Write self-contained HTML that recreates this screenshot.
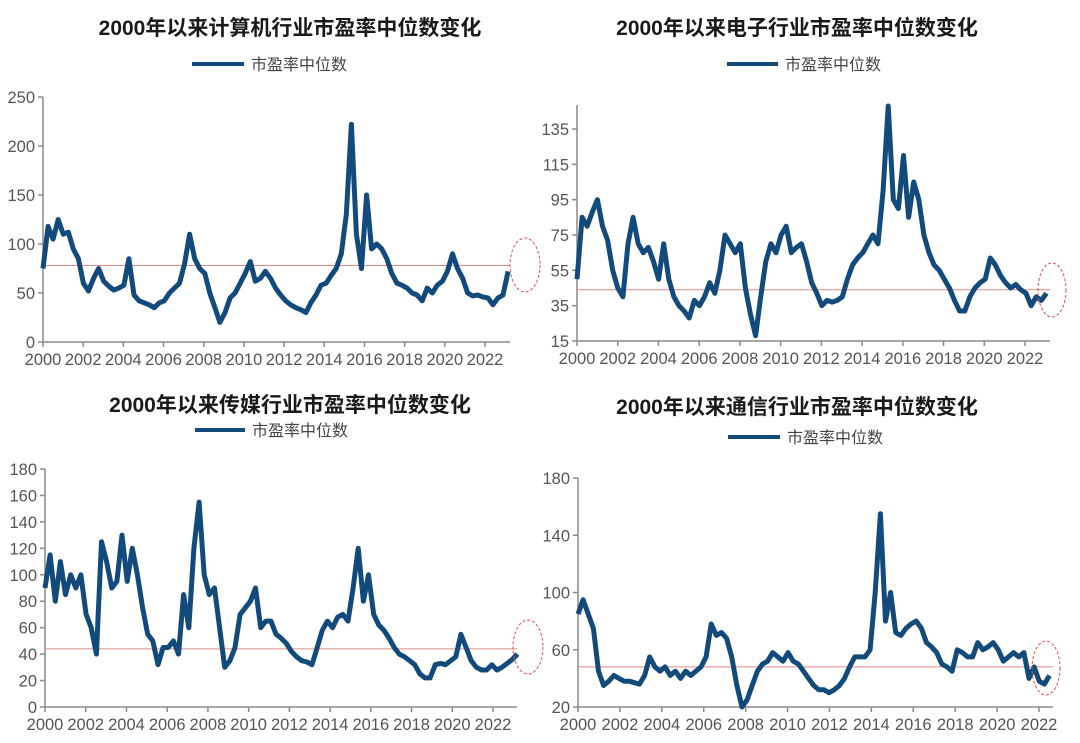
<!DOCTYPE html>
<html><head><meta charset="utf-8">
<style>
body{margin:0;background:#fff;}
svg{display:block;font-family:"Liberation Sans","Noto Sans CJK SC",sans-serif;}
</style></head>
<body>
<svg id="root" width="1080" height="743" viewBox="0 0 1080 743"></svg>
<script>
const years = [2000,2001,2002,2003,2004,2005,2006,2007,2008,2009,2010,2011,2012,2013,2014,2015,2016,2017,2018,2019,2020,2021,2022];
const xTickLabels = ["2000","2002","2004","2006","2008","2010","2012","2014","2016","2018","2020","2022"];
const computerPE = [75,118,105,125,110,112,95,85,60,52,65,75,62,57,53,55,58,85,48,42,40,38,35,40,42,50,55,60,80,110,85,75,70,50,35,20,30,45,50,60,70,82,62,65,72,65,55,48,42,38,35,33,30,40,48,58,60,68,75,90,130,222,110,75,150,95,100,95,85,70,60,58,55,50,48,42,55,50,58,62,72,90,75,65,50,47,48,46,45,38,45,48,72];
const electronicsPE = [50,85,80,88,95,80,72,55,45,40,70,85,70,65,68,60,50,70,50,40,35,32,28,38,35,40,48,42,55,75,70,65,70,45,30,18,40,60,70,65,75,80,65,68,70,60,48,42,35,38,37,38,40,50,58,62,65,70,75,70,100,148,95,90,120,85,105,95,75,65,58,55,50,45,38,32,32,40,45,48,50,62,58,52,48,45,47,44,42,35,40,38,42];
const mediaPE = [90,115,80,110,85,100,90,100,70,60,40,125,110,90,95,130,95,120,100,75,55,50,32,45,45,50,40,85,60,120,155,100,85,90,60,30,35,45,70,75,80,90,60,65,65,55,52,48,42,38,35,34,32,45,58,65,60,68,70,65,90,120,80,100,70,62,58,52,45,40,38,35,32,25,22,22,32,33,32,35,38,55,45,35,30,28,28,32,28,30,33,36,40];
const telecomPE = [85,95,85,75,45,35,38,42,40,38,38,37,36,42,55,48,45,48,42,45,40,45,42,45,48,55,78,70,72,68,55,35,20,25,35,45,50,52,58,55,52,58,52,50,45,40,35,32,32,30,32,35,40,48,55,55,55,60,100,155,80,100,72,70,75,78,80,75,65,62,58,50,48,45,60,58,55,55,65,60,62,65,60,52,55,58,55,58,40,48,38,36,42];
const meanValues = [78,44,44,48];
const yTicks1 = [0,50,100,150,200,250];
const yTicks2 = [15,35,55,75,95,115,135];
const yTicks3 = [0,20,40,60,80,100,120,140,160,180];
const yTicks4 = [20,60,100,140,180];
const titles = ["2000年以来计算机行业市盈率中位数变化","2000年以来电子行业市盈率中位数变化","2000年以来传媒行业市盈率中位数变化","2000年以来通信行业市盈率中位数变化"];
const legendLabel = "市盈率中位数";

const NS="http://www.w3.org/2000/svg";
const root=document.getElementById('root');
function mk(tag,attrs,parent){const e=document.createElementNS(NS,tag);for(const k in attrs)e.setAttribute(k,attrs[k]);(parent||root).appendChild(e);return e;}

const panels=[
 {series:computerPE,ticks:yTicks1,x0:43,x22:485,xEnd:510,yMin:0,yMax:250,pMin:342,pMax:97,axisTop:97,tx:290,ty:35,lx1:192,lx2:244,ly:64,ell:[525,265,15,27],key:'computer',last:2023.15},
 {series:electronicsPE,ticks:yTicks2,x0:577,x22:1025,xEnd:1050,yMin:15,yMax:135,pMin:341,pMax:129,axisTop:105,tx:797,ty:35,lx1:727,lx2:778,ly:64,ell:[1052,290,14,27],key:'electronics',last:2023.05},
 {series:mediaPE,ticks:yTicks3,x0:45,x22:493,xEnd:517,yMin:0,yMax:180,pMin:707,pMax:469,axisTop:469,tx:290,ty:412,lx1:195,lx2:245,ly:430,ell:[528,647,15,27],key:'media',last:2023.2},
 {series:telecomPE,ticks:yTicks4,x0:578,x22:1039,xEnd:1053,yMin:20,yMax:180,pMin:707,pMax:478,axisTop:478,tx:797,ty:414,lx1:728,lx2:780,ly:437,ell:[1046,668,14,27],key:'telecom',last:2022.5}
];

panels.forEach((p,i)=>{
 const g=mk('g',{});
 
 
 const X=y=>p.x0+(y-2000)*(p.x22-p.x0)/22;
 const Y=v=>p.pMin+(v-p.yMin)*(p.pMax-p.pMin)/(p.yMax-p.yMin);
 const t=mk('text',{x:p.tx,y:p.ty,'text-anchor':'middle','font-size':21,'font-weight':'bold',fill:'#1a1a1a'},g);
 t.textContent=titles[i];
 
 
 const lg=mk('g',{},g);
 
 
 mk('line',{x1:p.lx1,x2:p.lx2,y1:p.ly,y2:p.ly,stroke:'#134a7c','stroke-width':4},lg);
 const lt=mk('text',{x:p.lx2+7,y:p.ly+6,'font-size':16,fill:'#444'},lg);
 lt.textContent=legendLabel;
 const ax=mk('g',{stroke:'#8a8a8a','stroke-width':1.5},g);
 
 
 mk('line',{x1:p.x0,x2:p.x0,y1:p.axisTop,y2:p.pMin},ax);
 mk('line',{x1:p.x0,x2:p.xEnd,y1:p.pMin,y2:p.pMin},ax);
 p.ticks.forEach(v=>{
  mk('line',{x1:p.x0-5,x2:p.x0,y1:Y(v),y2:Y(v)},ax);
  const tt=mk('text',{x:p.x0-8,y:Y(v)+6,'text-anchor':'end','font-size':16.5,fill:'#555'},g);
  tt.textContent=v;
  
  
 });
 xTickLabels.forEach(s=>{
  const xv=X(+s);
  mk('line',{x1:xv,x2:xv,y1:p.pMin,y2:p.pMin+5},ax);
  const tt=mk('text',{x:xv,y:p.pMin+23,'text-anchor':'middle','font-size':16.5,fill:'#555'},g);
  tt.textContent=s;
  
  
 });
 const ml=mk('line',{x1:p.x0,x2:p.xEnd,y1:Y(meanValues[i]),y2:Y(meanValues[i]),stroke:'#e08a85','stroke-width':1},g);
 
 
 const n=p.series.length;
 const pts=p.series.map((v,k)=>X(2000+k*(p.last-2000)/(n-1)).toFixed(1)+','+Y(v).toFixed(1)).join(' ');
 const pl=mk('polyline',{points:pts,fill:'none',stroke:'#134a7c','stroke-width':5,'stroke-linejoin':'round'},g);
 
 
 const el=mk('ellipse',{cx:p.ell[0],cy:p.ell[1],rx:p.ell[2],ry:p.ell[3],fill:'none',stroke:'#e05050','stroke-width':1,'stroke-dasharray':'3,2'},g);
 
 
});
</script>
</body></html>
